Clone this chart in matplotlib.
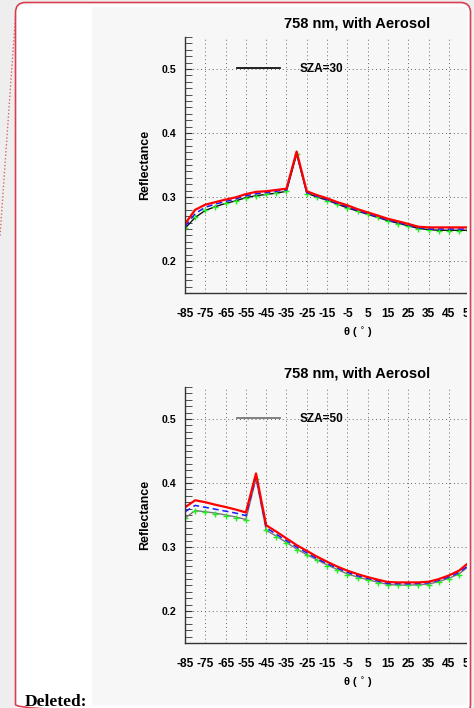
import matplotlib
matplotlib.use("Agg")
import matplotlib.pyplot as plt
from matplotlib.patches import FancyBboxPatch, Rectangle
from matplotlib.lines import Line2D
from matplotlib.ticker import MultipleLocator
import matplotlib.transforms as mtransforms

plt.rcParams['font.family'] = ['Liberation Sans', 'DejaVu Sans']

# viewing angle (deg), one point every 5 degrees
theta = [-85, -80, -75, -70, -65, -60, -55, -50, -45, -40, -35, -30, -25, -20,
         -15, -10, -5, 0, 5, 10, 15, 20, 25, 30, 35, 40, 45, 50, 55]
xtick_vals = [-85, -75, -65, -55, -45, -35, -25, -15, -5, 5, 15, 25, 35, 45, 55, 65, 75, 85]

# SZA = 30
red30 = [.258, .280, .288, .292, .296, .2995, .3045, .308, .309, .311, .313, .371, .309,
         .303, .298, .292, .287, .281, .276, .271, .266, .262, .258, .2535, .2525, .2525,
         .2525, .2525, .2525]
blue30 = [.254, .274, .284, .289, .293, .297, .302, .305, .307, .309, .311, .369, .307,
          .301, .296, .290, .285, .279, .274, .269, .264, .260, .256, .252, .250, .250,
          .250, .250, .250]
black30 = [.251, .268, .279, .285, .290, .294, .299, .302, .304, .306, .309, .367, .306,
           .300, .295, .289, .283, .278, .273, .268, .263, .259, .255, .251, .249, .248,
           .248, .248, .248]
green30 = [.251, .268, .279, .285, .290, .294, .299, .302, .304, .306, .309, .367, .305,
           .300, .294, .289, .283, .278, .273, .268, .263, .258, .254, .250, .248, .247,
           .247, .247, .247]

# SZA = 50
red50 = [.362, .373, .370, .366, .3625, .3585, .354, .415, .334, .324, .3135, .303, .294,
         .285, .277, .2695, .263, .2577, .253, .249, .2452, .2447, .2447, .2447, .2457,
         .2498, .2555, .263, .276]
blue50 = [.355, .365, .362, .359, .356, .353, .349, .410, .330, .320, .310, .300, .291,
          .282, .274, .267, .2605, .255, .251, .247, .243, .2425, .2425, .243, .244,
          .248, .253, .260, .272]
black50 = [.345, .357, .355, .353, .350, .347, .343, .407, .326, .317, .307, .297, .288,
           .280, .272, .265, .258, .253, .249, .245, .2415, .2405, .2405, .241, .242,
           .246, .251, .258, .270]
green50 = [.345, .357, .355, .352, .349, .346, .342, .407, .326, .316, .306, .296, .287,
           .279, .271, .264, .257, .252, .248, .244, .241, .240, .240, .240, .241,
           .245, .250, .257, .269]

W, H = 474, 708
fig = plt.figure(figsize=(W / 100, H / 100), dpi=100, facecolor='#eeeeee')
pix = mtransforms.Affine2D().scale(1, -1).translate(0, H)


def box(x0, y0, x1, y1):
    return [x0 / W, 1 - y1 / H, (x1 - x0) / W, (y1 - y0) / H]


# comment balloon + embedded picture background
fig.add_artist(FancyBboxPatch((15.5, 2.5), 455, 712, boxstyle='round,pad=0,rounding_size=10',
                              transform=pix, facecolor='white', edgecolor='none', zorder=-5))
fig.add_artist(Rectangle((92, 7), 375, 698, transform=pix, facecolor='#f7f7f7',
                         edgecolor='none', zorder=-4))
fig.add_artist(Line2D([15.5, 0], [16, 236], transform=pix, color='#d84050', lw=1,
                      ls=(0, (1, 1.5)), alpha=0.8, zorder=-3))
fig.text(25 / W, 1 - 706 / H, 'Deleted:', family='Liberation Serif', weight='bold',
         fontsize=12.5, va='baseline', ha='left')


def panel(top, red, blue, black, green, leg_color, label):
    ax = fig.add_axes(box(185, top, 530, top + 256))
    ax.patch.set_visible(False)
    ax.set_xlim(-85, 85)
    ax.set_ylim(0.15, 0.55)
    ax.set_axisbelow(True)
    for s in ['top', 'right']:
        ax.spines[s].set_visible(False)
    for s in ['left', 'bottom']:
        ax.spines[s].set_color('#333333')
        ax.spines[s].set_linewidth(1)
    ax.set_xticks(xtick_vals)
    ax.set_xticklabels([str(v) for v in xtick_vals], fontsize=8.6, weight='bold')
    ax.tick_params(axis='x', length=0, pad=10.5)
    ax.set_yticks([0.2, 0.3, 0.4, 0.5])
    ax.set_yticklabels(['0.2', '0.3', '0.4', '0.5'], fontsize=7.6, weight='bold')
    ax.yaxis.set_minor_locator(MultipleLocator(0.01))
    ax.tick_params(axis='y', which='both', direction='in', length=5, color='#333333', pad=6)
    ax.grid(True, which='major', color='#666666', lw=0.7, ls=(0, (1, 3)))

    ax.plot(theta, black, color=leg_color, lw=1)
    ax.plot(theta, green, ls='none', marker='+', ms=4.5, mew=1, color='#22ee22')
    ax.plot(theta, blue, color='#1a1aff', lw=1.1, ls=(0, (4, 2.5)))
    ax.plot(theta, red, color='#ff0000', lw=1.6)

    ax.legend(handles=[Line2D([], [], color=leg_color, lw=1.3)], labels=[label],
              loc='center left', bbox_to_anchor=(0.151, 0.875), frameon=False,
              borderpad=0, borderaxespad=0, handlelength=3.6, handletextpad=1.7,
              prop={'size': 8.5, 'weight': 'bold'})

    fig.text(357 / W, 1 - (top - 14) / H, '758 nm, with Aerosol', ha='center', va='center',
             fontsize=10.5, weight='bold')
    fig.text(145 / W, 1 - (top + 128) / H, 'Reflectance', rotation=90, ha='center',
             va='center', fontsize=9, weight='bold')
    fig.text(358 / W, 1 - (top + 296) / H, 'θ ( $^{\\circ}$ )', ha='center', va='center',
             fontsize=8, weight='bold')
    return ax


panel(37, red30, blue30, black30, green30, '#111111', 'SZA=30')
panel(387, red50, blue50, black50, green50, '#777777', 'SZA=50')

# picture is cut at the balloon's right edge
fig.add_artist(Rectangle((467, 7), 4, 698, transform=pix, facecolor='white',
                         edgecolor='none', zorder=5))
fig.add_artist(Rectangle((471, 0), 5, H, transform=pix, facecolor='#eeeeee',
                         edgecolor='none', zorder=5))
fig.add_artist(FancyBboxPatch((15.5, 2.5), 455, 712, boxstyle='round,pad=0,rounding_size=10',
                              transform=pix, facecolor='none', edgecolor='#d84050', lw=1.2,
                              zorder=6))

fig.savefig('out.png', dpi=100, facecolor=fig.get_facecolor())
